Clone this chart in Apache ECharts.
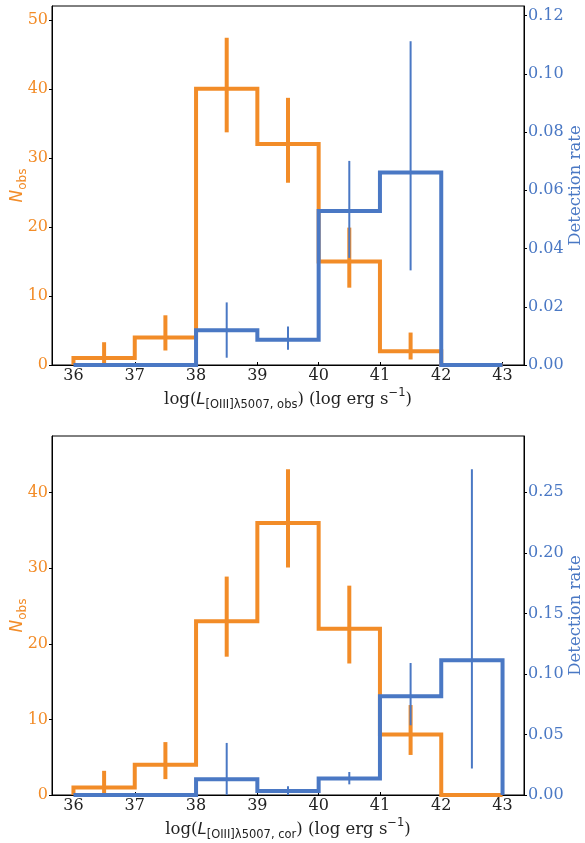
<!DOCTYPE html>
<html>
<head>
<meta charset="utf-8">
<script src="https://cdn.jsdelivr.net/npm/echarts@6/dist/echarts.min.js"></script>
<style>
  html, body { margin: 0; padding: 0; background: #fff; }
  #chart { width: 585px; height: 843px; }
</style>
</head>
<body>
<div id="chart"></div>
<script>
// bin edges shared by both panels
var binEdges = [36, 37, 38, 39, 40, 41, 42, 43];
var binCentres = [36.5, 37.5, 38.5, 39.5, 40.5, 41.5, 42.5];
var xTicks = [36, 37, 38, 39, 40, 41, 42, 43];

// top panel: observed luminosity
var nObsTop = [1, 4, 40, 32, 15, 2, 0];
var nObsTopLo = [0, 2.1, 33.7, 26.4, 11.2, 0.8, null];
var nObsTopHi = [3.3, 7.2, 47.4, 38.7, 19.9, 4.7, null];
var rateTop = [0, 0, 0.0119, 0.0087, 0.0529, 0.0661, 0];
var rateTopLo = [null, null, 0.0025, 0.0052, 0.0368, 0.0325, null];
var rateTopHi = [null, null, 0.0215, 0.0132, 0.0701, 0.1112, null];
var leftTicksTop = [0, 10, 20, 30, 40, 50];
var rightTicksTop = [0, 0.02, 0.04, 0.06, 0.08, 0.10, 0.12];

// bottom panel: corrected luminosity
var nObsBot = [1, 4, 23, 36, 22, 8, 0];
var nObsBotLo = [0, 2.1, 18.3, 30.1, 17.4, 5.3, null];
var nObsBotHi = [3.2, 7.0, 28.9, 43.1, 27.7, 11.9, null];
var rateBot = [0, 0, 0.013, 0.0033, 0.0136, 0.0816, 0.1113];
var rateBotLo = [null, null, 0.0, 0.0, 0.0088, 0.0576, 0.0218];
var rateBotHi = [null, null, 0.043, 0.0072, 0.019, 0.109, 0.269];
var leftTicksBot = [0, 10, 20, 30, 40];
var rightTicksBot = [0, 0.05, 0.10, 0.15, 0.20, 0.25];

var ORANGE = '#F28C28';
var BLUE = '#4A78C4';
var SERIF = 'DejaVu Serif';

function stepPoints(vals) {
    var pts = [[binEdges[0], 0]];
    for (var i = 0; i < vals.length; i++) {
        pts.push([binEdges[i], vals[i]]);
        pts.push([binEdges[i + 1], vals[i]]);
    }
    pts.push([binEdges[binEdges.length - 1], 0]);
    return pts;
}

function errPoints(lo, hi) {
    var out = [];
    for (var i = 0; i < binCentres.length; i++) {
        if (lo[i] === null) continue;
        out.push([binCentres[i], lo[i], hi[i]]);
    }
    return out;
}

function errSeries(idx, yIdx, data, color, width) {
    return {
        type: 'custom',
        xAxisIndex: idx,
        yAxisIndex: yIdx,
        data: data,
        silent: true,
        renderItem: function (params, api) {
            var a = api.coord([api.value(0), api.value(1)]);
            var b = api.coord([api.value(0), api.value(2)]);
            return {
                type: 'line',
                shape: { x1: a[0], y1: a[1], x2: b[0], y2: b[1] },
                style: { stroke: color, lineWidth: width }
            };
        }
    };
}

function stepSeries(idx, yIdx, vals, color) {
    return {
        type: 'line',
        xAxisIndex: idx,
        yAxisIndex: yIdx,
        data: stepPoints(vals),
        showSymbol: false,
        silent: true,
        lineStyle: { color: color, width: 4, join: 'miter' }
    };
}

function xName(tag) {
    return '{n|log(}{i|L}{s|[OIII]λ5007, ' + tag + '}{n|) (log erg s}{p|−1}{n|)}';
}

var xRich = {
    n: { fontFamily: SERIF, fontSize: 16.5, color: '#222', verticalAlign: 'bottom', lineHeight: 21 },
    i: { fontFamily: 'DejaVu Sans', fontStyle: 'italic', fontSize: 16.5, color: '#222', verticalAlign: 'bottom', lineHeight: 21 },
    s: { fontFamily: 'DejaVu Sans', fontSize: 11.5, color: '#222', verticalAlign: 'bottom', lineHeight: 14, padding: [0, 0, -3, 0] },
    p: { fontFamily: 'DejaVu Sans', fontSize: 11.5, color: '#222', verticalAlign: 'top', lineHeight: 14, padding: [0, 0, 7, 0] }
};

function xAxisCfg(idx, tag) {
    return {
        type: 'value',
        gridIndex: idx,
        min: 35.65,
        max: 43.35,
        name: xName(tag),
        nameLocation: 'middle',
        nameGap: 22,
        nameMoveOverlap: false,
        nameTextStyle: { rich: xRich, verticalAlign: 'top' },
        splitLine: { show: false },
        axisLine: { lineStyle: { color: '#000', width: 1 } },
        axisTick: { inside: true, length: 3, customValues: xTicks, lineStyle: { color: '#000' } },
        axisLabel: { customValues: xTicks, fontFamily: SERIF, fontSize: 16, color: '#222', margin: 3 }
    };
}

function leftAxisCfg(idx, max, ticks) {
    return {
        type: 'value',
        gridIndex: idx,
        position: 'left',
        min: 0,
        max: max,
        name: '{i|N}{s|obs}',
        nameLocation: 'middle',
        nameGap: 26,
        nameMoveOverlap: false,
        nameTextStyle: {
            rich: {
                i: { fontFamily: 'DejaVu Sans', fontStyle: 'italic', fontSize: 17, color: ORANGE, verticalAlign: 'bottom', lineHeight: 21 },
                s: { fontFamily: 'DejaVu Sans', fontSize: 12, color: ORANGE, verticalAlign: 'bottom', lineHeight: 14, padding: [0, 0, -3, 0] }
            }
        },
        splitLine: { show: false },
        axisLine: { show: true, lineStyle: { color: '#000', width: 1 } },
        axisTick: { show: true, length: 3, customValues: ticks, lineStyle: { color: '#000' } },
        axisLabel: { customValues: ticks, fontFamily: SERIF, fontSize: 16, color: ORANGE, margin: 4 }
    };
}

function rightAxisCfg(idx, max, ticks) {
    return {
        type: 'value',
        gridIndex: idx,
        position: 'right',
        min: 0,
        max: max,
        name: 'Detection rate',
        nameLocation: 'middle',
        nameGap: 43,
        nameMoveOverlap: false,
        nameTextStyle: { fontFamily: SERIF, fontSize: 16.5, color: BLUE },
        splitLine: { show: false },
        axisLine: { show: true, lineStyle: { color: '#000', width: 1 } },
        axisTick: { show: true, length: 3, customValues: ticks, lineStyle: { color: '#000' } },
        axisLabel: {
            customValues: ticks, fontFamily: SERIF, fontSize: 16, color: BLUE, margin: 4,
            formatter: function (v) { return v.toFixed(2); }
        }
    };
}

var chart = echarts.init(document.getElementById('chart'), null, { renderer: 'canvas' });
chart.setOption({
    animation: false,
    backgroundColor: '#fff',
    grid: [
        { left: 52, top: 6, width: 472, height: 359, outerBoundsMode: 'none', containLabel: false, show: true, borderColor: '#000', borderWidth: 1, backgroundColor: 'transparent' },
        { left: 52, top: 436, width: 472, height: 359, outerBoundsMode: 'none', containLabel: false, show: true, borderColor: '#000', borderWidth: 1, backgroundColor: 'transparent' }
    ],
    xAxis: [xAxisCfg(0, 'obs'), xAxisCfg(1, 'cor')],
    yAxis: [
        leftAxisCfg(0, 52, leftTicksTop),
        rightAxisCfg(0, 0.1233, rightTicksTop),
        leftAxisCfg(1, 47.5, leftTicksBot),
        rightAxisCfg(1, 0.2965, rightTicksBot)
    ],
    series: [
        stepSeries(0, 0, nObsTop, ORANGE),
        errSeries(0, 0, errPoints(nObsTopLo, nObsTopHi), ORANGE, 4),
        stepSeries(0, 1, rateTop, BLUE),
        errSeries(0, 1, errPoints(rateTopLo, rateTopHi), BLUE, 2),
        stepSeries(1, 2, nObsBot, ORANGE),
        errSeries(1, 2, errPoints(nObsBotLo, nObsBotHi), ORANGE, 4),
        stepSeries(1, 3, rateBot, BLUE),
        errSeries(1, 3, errPoints(rateBotLo, rateBotHi), BLUE, 2)
    ]
});
</script>
</body>
</html>
